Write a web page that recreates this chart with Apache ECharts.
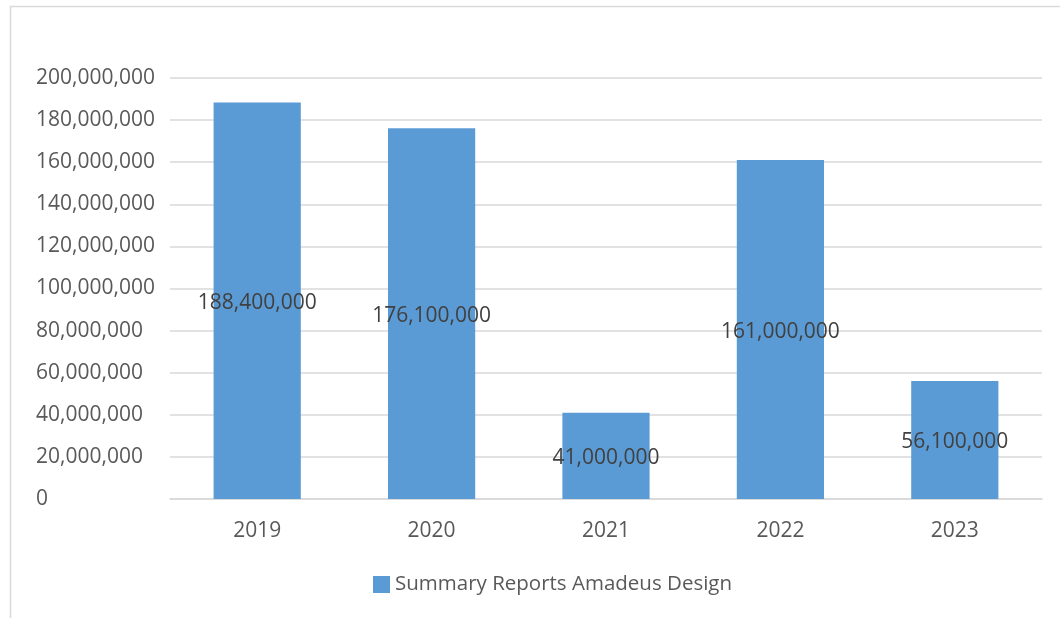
<!DOCTYPE html>
<html><head><meta charset="utf-8">
<script src="https://cdn.jsdelivr.net/npm/echarts@6/dist/echarts.min.js"></script>
<style>html,body{margin:0;padding:0;background:#fff}#c{width:1060px;height:618px}</style>
</head><body><div id="c"></div>
<script>
const categories = ['2019', '2020', '2021', '2022', '2023'];
const values = [188400000, 176100000, 41000000, 161000000, 56100000];
const seriesName = 'Summary Reports Amadeus Design';
const yTicks = { min: 0, max: 200000000, interval: 20000000 };

const fmt = v => Number(v).toLocaleString('en-US');
const FONT = '"Open Sans", sans-serif';
const chart = echarts.init(document.getElementById('c'), null, { renderer: 'canvas' });
chart.setOption({
  animation: false,
  backgroundColor: '#fff',
  graphic: [{
    type: 'polyline', silent: true,
    shape: { points: [[10.5, 640], [10.5, 6.5], [1070, 6.5]] },
    style: { stroke: '#d9d9d9', lineWidth: 1.5, fill: null }
  }],
  grid: { left: 170, right: 18, top: 78, bottom: 119 },
  legend: {
    data: [seriesName], bottom: 18, left: 368,
    icon: 'rect', itemWidth: 17, itemHeight: 17, itemGap: 6,
    textStyle: { color: '#595959', fontSize: 20.5, fontFamily: FONT }
  },
  xAxis: {
    type: 'category', data: categories,
    axisLine: { lineStyle: { color: '#d9d9d9', width: 1.5 } },
    axisTick: { show: false },
    axisLabel: { color: '#595959', fontSize: 21, fontFamily: FONT, margin: 22 }
  },
  yAxis: {
    type: 'value', min: yTicks.min, max: yTicks.max, interval: yTicks.interval,
    axisLine: { show: false }, axisTick: { show: false },
    splitLine: { lineStyle: { color: '#d9d9d9', width: 1.5 } },
    axisLabel: { color: '#595959', fontSize: 21, fontFamily: FONT, align: 'left', margin: 134, padding: [8, 0, 0, 0], formatter: fmt }
  },
  series: [{
    name: seriesName, type: 'bar', data: values, barWidth: '50%',
    itemStyle: { color: '#5B9BD5' },
    label: { show: true, position: 'inside', offset: [0, 2], color: '#404040', fontSize: 21, fontFamily: FONT, formatter: p => fmt(p.value) }
  }]
});
</script></body></html>
